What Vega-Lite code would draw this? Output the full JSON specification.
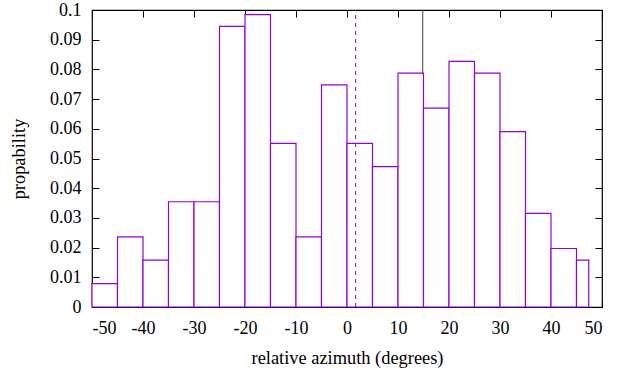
{
  "$schema": "https://vega.github.io/schema/vega-lite/v6.json",
  "width": 510,
  "height": 297,
  "autosize": "none",
  "padding": {"left": 92, "top": 10, "right": 27, "bottom": 62},
  "background": "white",
  "config": {
    "locale": {"number": {"decimal": ".", "thousands": ",", "grouping": [3], "currency": ["$", ""], "minus": "-"}},
    "view": {"stroke": "black", "strokeWidth": 1.2},
    "font": "Liberation Serif, serif",
    "axis": {
      "grid": false, "domain": false, "tickColor": "black", "tickSize": 7, "tickWidth": 1, "offset": -7, "zindex": 1,
      "labelFont": "Liberation Serif, serif", "labelFontSize": 18, "labelColor": "black",
      "titleFont": "Liberation Serif, serif", "titleFontSize": 18.4, "titleFontWeight": "normal", "titleColor": "black"
    }
  },
  "datasets": {
    "bins": [
      {"x0": -50, "x1": -45, "p": 0.00787},
      {"x0": -45, "x1": -40, "p": 0.02362},
      {"x0": -40, "x1": -35, "p": 0.01575},
      {"x0": -35, "x1": -30, "p": 0.03543},
      {"x0": -30, "x1": -25, "p": 0.03543},
      {"x0": -25, "x1": -20, "p": 0.09449},
      {"x0": -20, "x1": -15, "p": 0.09843},
      {"x0": -15, "x1": -10, "p": 0.05512},
      {"x0": -10, "x1": -5, "p": 0.02362},
      {"x0": -5, "x1": 0, "p": 0.07480},
      {"x0": 0, "x1": 5, "p": 0.05512},
      {"x0": 5, "x1": 10, "p": 0.04724},
      {"x0": 10, "x1": 15, "p": 0.07874},
      {"x0": 15, "x1": 20, "p": 0.06693},
      {"x0": 20, "x1": 25, "p": 0.08268},
      {"x0": 25, "x1": 30, "p": 0.07874},
      {"x0": 30, "x1": 35, "p": 0.05906},
      {"x0": 35, "x1": 40, "p": 0.03150},
      {"x0": 40, "x1": 45, "p": 0.01969},
      {"x0": 45, "x1": 47.4, "p": 0.01575}
    ],
    "grayline": [{"x": 14.85, "y0": 0, "y1": 0.1}],
    "dashline": [{"x": 1.7, "y0": 0, "y1": 0.1}]
  },
  "resolve": {"axis": {"x": "independent", "y": "independent"}},
  "layer": [
    {
      "data": {"name": "grayline"},
      "mark": {"type": "rule", "color": "#444444", "strokeWidth": 1},
      "encoding": {
        "x": {"field": "x", "type": "quantitative", "scale": {"domain": [-50, 50], "nice": false, "zero": false},
          "axis": {"orient": "top", "labels": false, "title": null, "values": [-50, -40, -30, -20, -10, 0, 10, 20, 30, 40, 50]}},
        "y": {"field": "y0", "type": "quantitative", "scale": {"domain": [0, 0.1], "nice": false},
          "axis": {"orient": "right", "labels": false, "title": null, "values": [0, 0.01, 0.02, 0.03, 0.04, 0.05, 0.06, 0.07, 0.08, 0.09, 0.1]}},
        "y2": {"field": "y1"}
      }
    },
    {
      "data": {"name": "bins"},
      "mark": {"type": "bar", "fill": "white", "stroke": "#9400d3", "strokeWidth": 1.2},
      "encoding": {
        "x": {"field": "x0", "type": "quantitative", "scale": {"domain": [-50, 50], "nice": false, "zero": false},
          "axis": {"orient": "bottom", "title": "relative azimuth (degrees)", "format": "d", "values": [-50, -40, -30, -20, -10, 0, 10, 20, 30, 40, 50], "labelPadding": 12, "titlePadding": 11}},
        "x2": {"field": "x1"},
        "y": {"field": "p", "type": "quantitative", "scale": {"domain": [0, 0.1], "nice": false},
          "axis": {"orient": "left", "title": "propability", "format": "~g", "values": [0, 0.01, 0.02, 0.03, 0.04, 0.05, 0.06, 0.07, 0.08, 0.09, 0.1], "labelPadding": 11, "titlePadding": 21}},
        "y2": {"datum": 0}
      }
    },
    {
      "data": {"name": "dashline"},
      "mark": {"type": "rule", "color": "#9400d3", "strokeWidth": 1, "strokeDash": [4, 4]},
      "encoding": {
        "x": {"field": "x", "type": "quantitative", "scale": {"domain": [-50, 50], "nice": false, "zero": false}, "axis": null},
        "y": {"field": "y0", "type": "quantitative", "scale": {"domain": [0, 0.1], "nice": false}, "axis": null},
        "y2": {"field": "y1"}
      }
    }
  ]
}
